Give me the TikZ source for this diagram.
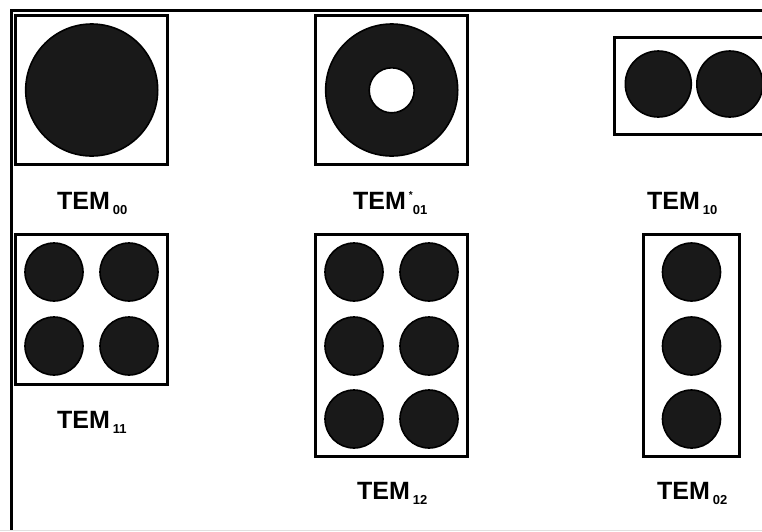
\documentclass[tikz,border=0pt]{standalone}
\usepackage{fontspec}
\setmainfont{Liberation Sans}
\usepackage{xcolor}
\usepackage{tikz}
\usetikzlibrary{positioning}

\begin{document}
\begin{tikzpicture}[x=1pt, y=-1pt,
            frm/.style={rectangle, draw, line width=3pt, fill=white, inner sep=0pt},
            spot/.style={circle, draw, line width=1.6pt, fill=black!90, inner sep=0pt},
            hole/.style={circle, draw, line width=1.6pt, fill=white, inner sep=0pt},
            lbl/.style={anchor=base west, inner sep=0pt,
                    font=\fontsize{25}{25}\selectfont\bfseries}
            ]
            \useasboundingbox (0,0) rectangle (762,531);

            %% ---- Frame ----
            \coordinate (ftl) at (11.5,10.5);
            \coordinate (ftr) at (762,10.5);
            \coordinate (fbl) at (11.5,531);
            \draw[line width=3.8pt] (ftr) -- (ftl) -- (fbl);
            \draw[black!12, line width=1pt] (0,530) -- (762,530);

            %% ---- TEM00 ----
            \node[frm, minimum width=152, minimum height=149] (b00) at (91,89.5) {};
            \node[spot, minimum size=132] (c00) at (91.7,90) {};
            \node[lbl] (l00) at (57,209) {TEM\hspace{3pt}\raisebox{-5pt}{\fontsize{13}{13}\selectfont 00}};

            %% ---- TEM01* ----
            \node[frm, minimum width=152, minimum height=149] (b01) at (391,89.5) {};
            \node[spot, minimum size=132] (c01) at (391.7,90) {};
            \node[hole, minimum size=45] (h01) at (391.7,90.3) {};
            \node[lbl] (l01) at (353,209) {TEM\hspace{3pt}\raisebox{11pt}{\fontsize{10}{10}\selectfont *}\raisebox{-5pt}{\fontsize{13}{13}\selectfont 01}};

            %% ---- TEM10 ----
            \node[frm, minimum width=161, minimum height=97] (b10) at (694.5,85.5) {};
            \node[spot, minimum size=66] (c10a) at (658.3,84) {};
            \node[spot, minimum size=66] (c10b) at (729.8,84) {};
            \node[lbl] (l10) at (647,209) {TEM\hspace{3pt}\raisebox{-5pt}{\fontsize{13}{13}\selectfont 10}};

            %% ---- TEM11 ----
            \node[frm, minimum width=152, minimum height=150] (b11) at (91,309) {};
            \node[spot, minimum size=58] (c11a) at (54,272) {};
            \node[spot, minimum size=58] (c11b) at (129,272) {};
            \node[spot, minimum size=58] (c11c) at (54,346) {};
            \node[spot, minimum size=58] (c11d) at (129,346) {};
            \node[lbl] (l11) at (57,428) {TEM\hspace{3pt}\raisebox{-5pt}{\fontsize{13}{13}\selectfont 11}};

            %% ---- TEM12 ----
            \node[frm, minimum width=152, minimum height=222] (b12) at (391,345) {};
            \node[spot, minimum size=58] (c12a) at (354,272) {};
            \node[spot, minimum size=58] (c12b) at (429,272) {};
            \node[spot, minimum size=58] (c12c) at (354,346) {};
            \node[spot, minimum size=58] (c12d) at (429,346) {};
            \node[spot, minimum size=58] (c12e) at (354,419) {};
            \node[spot, minimum size=58] (c12f) at (429,419) {};
            \node[lbl] (l12) at (357,499) {TEM\hspace{3pt}\raisebox{-5pt}{\fontsize{13}{13}\selectfont 12}};

            %% ---- TEM02 ----
            \node[frm, minimum width=96, minimum height=222] (b02) at (691,345) {};
            \node[spot, minimum size=58] (c02a) at (691.5,272) {};
            \node[spot, minimum size=58] (c02b) at (691.5,346) {};
            \node[spot, minimum size=58] (c02c) at (691.5,419) {};
            \node[lbl] (l02) at (657,499) {TEM\hspace{3pt}\raisebox{-5pt}{\fontsize{13}{13}\selectfont 02}};
\end{tikzpicture}
\end{document}
